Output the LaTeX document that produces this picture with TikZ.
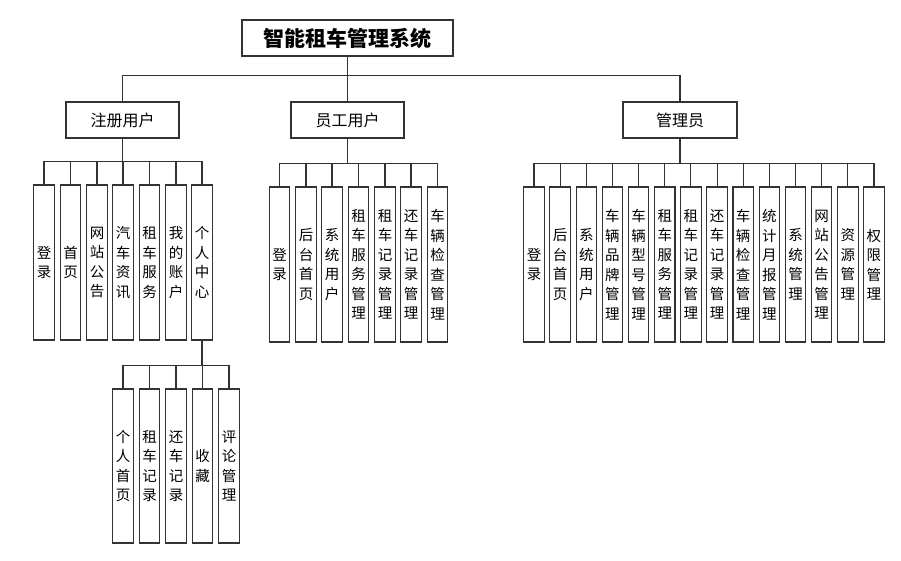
\documentclass[tikz,border=0pt]{standalone}
\usepackage{fontspec}
\setmainfont{Noto Sans CJK SC}
\begin{document}
\begin{tikzpicture}[x=1pt,y=-1pt,
  line width=1.1pt, draw=black!80,
  box/.style={draw=black!80, line width=1.1pt, inner sep=0pt, align=center},
  titlebox/.style={box, minimum width=211pt, minimum height=36pt, font=\fontsize{21}{24}\selectfont\bfseries},
  catbox/.style={box, minimum width=113pt, minimum height=36pt, font=\fontsize{16}{19}\selectfont},
  leaf/.style={box, minimum width=20.5pt, minimum height=155pt, font=\fontsize{14.5}{19.5}\selectfont},
  conn/.style={draw=black!80, line width=1.1pt}]
\useasboundingbox (0,0) rectangle (901,560);
\node[titlebox] (t) at (347.5,38) {智能租车管理系统};
\node[catbox] (c1) at (122.5,120) {注册用户};
\node[catbox] (c2) at (347.5,120) {员工用户};
\node[catbox, minimum width=114pt] (c3) at (680,120) {管理员};
\foreach \c in {c1,c2,c3}
  \draw[conn] (t.south) -- ++(0,19) -| (\c.north);
% group 1
\foreach \i/\x/\txt in {1/44/{登\\录},2/70.5/{首\\页},3/97/{网\\站\\公\\告},4/123/{汽\\车\\资\\讯},5/149.5/{租\\车\\服\\务},6/176/{我\\的\\账\\户},7/202/{个\\人\\中\\心}}{
  \node[leaf] (a\i) at (\x,262.5) {\txt};
  \draw[conn] (c1.south) -- ++(0,23) -| (a\i.north);
}
% group 2
\foreach \i/\x/\txt in {1/279.5/{登\\录},2/306/{后\\台\\首\\页},3/332/{系\\统\\用\\户},4/358.5/{租\\车\\服\\务\\管\\理},5/385/{租\\车\\记\\录\\管\\理},6/411/{还\\车\\记\\录\\管\\理},7/437.5/{车\\辆\\检\\查\\管\\理}}{
  \node[leaf] (b\i) at (\x,264.5) {\txt};
  \draw[conn] (c2.south) -- ++(0,25) -| (b\i.north);
}
% group 3
\foreach \i/\txt in {0/{登\\录},1/{后\\台\\首\\页},2/{系\\统\\用\\户},3/{车\\辆\\品\\牌\\管\\理},4/{车\\辆\\型\\号\\管\\理},5/{租\\车\\服\\务\\管\\理},6/{租\\车\\记\\录\\管\\理},7/{还\\车\\记\\录\\管\\理},8/{车\\辆\\检\\查\\管\\理},9/{统\\计\\月\\报\\管\\理},10/{系\\统\\管\\理},11/{网\\站\\公\\告\\管\\理},12/{资\\源\\管\\理},13/{权\\限\\管\\理}}{
  \node[leaf] (m\i) at ({534+26.15*\i},264.5) {\txt};
  \draw[conn] (c3.south) -- ++(0,25) -| (m\i.north);
}
% sub group under 个人中心
\foreach \i/\x/\txt in {1/123/{个\\人\\首\\页},2/149.5/{租\\车\\记\\录},3/176/{还\\车\\记\\录},4/202.5/{收\\藏},5/229/{评\\论\\管\\理}}{
  \node[leaf, minimum height=154pt] (s\i) at (\x,466) {\txt};
  \draw[conn] (a7.south) -- ++(0,25) -| (s\i.north);
}
\end{tikzpicture}
\end{document}
